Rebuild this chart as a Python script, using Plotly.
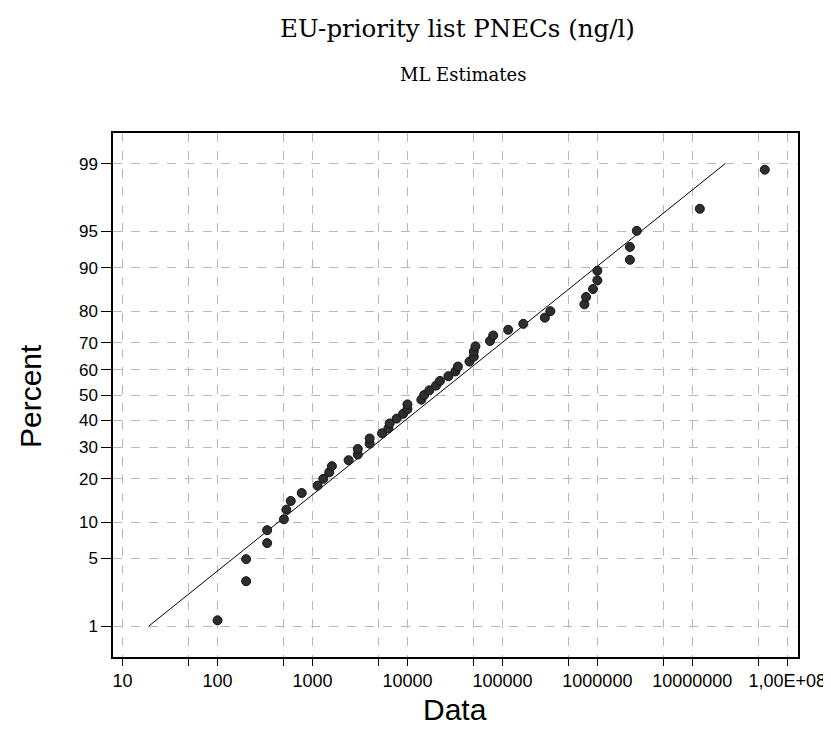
import plotly.graph_objects as go
from statistics import NormalDist

# Data values (ng/l)
pnec_values = [100, 200, 200, 333, 333, 500, 530, 590, 770, 1130,
               1300, 1500, 1600, 2400, 3000, 3000, 4000, 4000, 5400, 6300,
               6500, 7700, 9000, 10000, 10000, 14000, 15000, 17000, 20000, 22000,
               27000, 32000, 34000, 45000, 50000, 50000, 52000, 74000, 80000, 115000,
               166000, 280000, 320000, 730000, 760000, 900000, 1000000, 1000000, 2200000, 2200000,
               2600000, 12000000, 58000000]
# Plotted percentages (probability positions)
percent_values = [1.17, 3.05, 4.93, 6.81, 8.69, 10.56, 12.44, 14.32, 16.20, 18.08,
                  19.95, 21.83, 23.71, 25.59, 27.46, 29.34, 31.22, 33.10, 34.98, 36.85,
                  38.73, 40.61, 42.49, 44.37, 46.24, 48.12, 50.00, 51.88, 53.76, 55.63,
                  57.51, 59.39, 61.27, 63.15, 65.02, 66.90, 68.78, 70.66, 72.54, 74.41,
                  76.29, 78.17, 80.05, 81.92, 83.80, 85.68, 87.56, 89.44, 91.31, 93.19,
                  95.07, 96.95, 98.83]

# ML estimates of the lognormal fit (log10 location / scale)
fit_loc = 4.309
fit_scale = 1.3046
fit_percent_ends = [1, 99]

# Axis ticks
y_tick_percents = [1, 5, 10, 20, 30, 40, 50, 60, 70, 80, 90, 95, 99]
x_tick_vals = [10, 100, 1000, 10000, 100000, 1000000, 10000000, 100000000]
x_tick_text = ["10", "100", "1000", "10000", "100000", "1000000", "10000000", "1,00E+08"]
x_minor_vals = [50, 500, 5000, 50000, 500000, 5000000, 50000000]

nd = NormalDist()
def z(p):
    return nd.inv_cdf(p / 100.0)

pts_z = [z(p) for p in percent_values]
line_z = [z(p) for p in fit_percent_ends]
line_x = [10 ** (fit_loc + fit_scale * zz) for zz in line_z]

# figure geometry (page body has an 8px margin)
W, H = 815, 715
L, R, T, B = 104.7, 25, 125.3, 65.7
pw, ph = W - L - R, H - T - B

def px(xs):
    return (xs - 8 - L) / pw

def py(ys):
    return (H - (ys - 8) - B) / ph

fig = go.Figure()
fig.add_trace(go.Scatter(
    x=line_x, y=line_z, mode="lines",
    line=dict(color="black", width=1), showlegend=False, hoverinfo="skip"))
fig.add_trace(go.Scatter(
    x=pnec_values, y=pts_z, mode="markers",
    marker=dict(size=9, color="#2e2e2e", line=dict(color="#111111", width=1)),
    showlegend=False))

zmax = 2.636
grid = "#b8b8b8"
fig.update_layout(
    width=W, height=H,
    margin=dict(l=L, r=R, t=T, b=B, autoexpand=False),
    paper_bgcolor="white", plot_bgcolor="white",
    font=dict(family="Liberation Sans, Arial, sans-serif", color="black"),
    xaxis=dict(
        type="log", range=[0.899, 8.113], automargin=False,
        tickmode="array", tickvals=x_tick_vals, ticktext=x_tick_text,
        ticks="outside", ticklen=7, tickwidth=1, tickcolor="black",
        tickfont=dict(size=18), ticklabeloverflow="allow",
        showgrid=True, gridcolor=grid, griddash="dash", gridwidth=1,
        minor=dict(tickmode="array", tickvals=x_minor_vals, ticks="outside", ticklen=7,
                   tickcolor="black", showgrid=True, gridcolor=grid, griddash="dash"),
        showline=True, linecolor="black", linewidth=1.5, mirror=True,
        zeroline=False,
    ),
    yaxis=dict(
        range=[-zmax, zmax], automargin=False,
        tickmode="array", tickvals=[z(p) for p in y_tick_percents],
        ticktext=[str(p) for p in y_tick_percents],
        ticks="outside", ticklen=10, tickwidth=1, tickcolor="black",
        tickfont=dict(size=17),
        showgrid=True, gridcolor=grid, griddash="dash", gridwidth=1,
        showline=True, linecolor="black", linewidth=1.5, mirror=True,
        zeroline=False,
    ),
    annotations=[
        dict(text="EU-priority list PNECs (ng/l)", x=px(457), y=py(29), xref="paper", yref="paper",
             showarrow=False, xanchor="center", yanchor="middle",
             font=dict(family="DejaVu Serif, serif", size=24.5)),
        dict(text="ML Estimates", x=px(463), y=py(75), xref="paper", yref="paper",
             showarrow=False, xanchor="center", yanchor="middle",
             font=dict(family="DejaVu Serif, serif", size=18)),
        dict(text="Data", x=px(455), y=py(710), xref="paper", yref="paper",
             showarrow=False, xanchor="center", yanchor="middle",
             font=dict(size=30)),
        dict(text="Percent", x=px(30), y=py(396), xref="paper", yref="paper",
             showarrow=False, xanchor="center", yanchor="middle", textangle=-90,
             font=dict(size=30)),
    ],
)

fig.write_html("out.html")
